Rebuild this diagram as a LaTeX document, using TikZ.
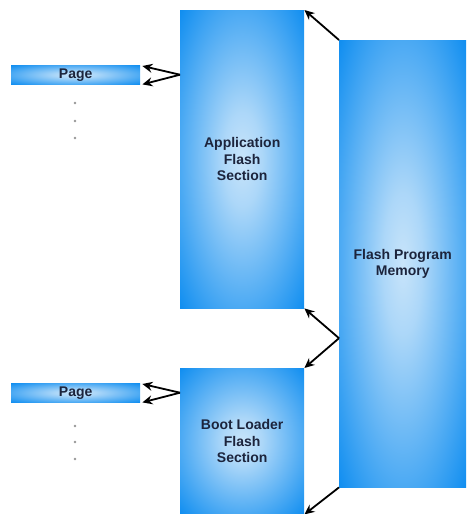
\documentclass[tikz,border=0pt]{standalone}
\usepackage{fontspec}
\setmainfont{Liberation Sans}
\usetikzlibrary{arrows.meta,calc}

\definecolor{flashblue}{RGB}{12,140,240}
\definecolor{glowblue}{RGB}{200,228,250}
\definecolor{labelink}{RGB}{28,36,60}
\definecolor{dotgray}{RGB}{150,150,150}

% soft radial glow used by all memory blocks
\pgfdeclareradialshading{flashglow}{\pgfpoint{0bp}{0bp}}{%
  color(0bp)=(glowblue); color(8bp)=(glowblue!85!flashblue);
  color(36bp)=(flashblue); color(50bp)=(flashblue)}

\tikzset{
  block/.style={anchor=north west, inner sep=0pt, draw=none,
    shading=flashglow, align=center, text=labelink,
    font=\bfseries\fontsize{14}{16.5}\selectfont},
  pagebar/.style={block, minimum width=129pt, minimum height=19pt},
  ellipsisdot/.style={circle, fill=dotgray, inner sep=0pt, minimum size=2.6pt},
  link/.style={draw=black, line width=1.8pt,
    -{Stealth[length=10pt,width=9pt]}}
}

\begin{document}
\begin{tikzpicture}[x=1pt,y=-1pt]
\useasboundingbox (0,0) rectangle (466,514);

% memory sections
\node[block, minimum width=124pt, minimum height=298pt] (app) at (180,10)
  {Application\\Flash\\Section};
\node[block, minimum width=124pt, minimum height=146pt] (boot) at (180,368)
  {Boot Loader\\Flash\\Section};
\node[block, minimum width=127pt, minimum height=447pt] (mem) at (339,40)
  {Flash Program\\Memory};

% pages
\node[pagebar] (page1) at (11,65) {Page};
\node[pagebar] (page2) at (11,383) {Page};

% ellipsis under each page
\node[ellipsisdot] (d1) at (75,103) {};
\node[ellipsisdot] (d2) at (75,121) {};
\node[ellipsisdot] (d3) at (75,138) {};
\node[ellipsisdot] (d4) at (75,426) {};
\node[ellipsisdot] (d5) at (75,442) {};
\node[ellipsisdot] (d6) at (75,459) {};

% arrow end points
\coordinate (p1src) at (app.west |- page1.east);
\coordinate (p1a) at ($(page1.north east)+(2,1)$);
\coordinate (p1b) at ($(page1.south east)+(2,0)$);
\coordinate (p2src) at (boot.west |- page2.east);
\coordinate (p2a) at ($(page2.north east)+(2,1)$);
\coordinate (p2b) at ($(page2.south east)+(2,0)$);
\coordinate (mmid) at ($(mem.west)+(0,74.5)$);

% page <-> section
\draw[link] (p1src) -- (p1a);
\draw[link] (p1src) -- (p1b);
\draw[link] (p2src) -- (p2a);
\draw[link] (p2src) -- (p2b);

% memory -> section boundaries
\draw[link] (mem.north west) -- (app.north east);
\draw[link] (mmid) -- (app.south east);
\draw[link] (mmid) -- (boot.north east);
\draw[link] (mem.south west) -- (boot.south east);
\end{tikzpicture}
\end{document}
